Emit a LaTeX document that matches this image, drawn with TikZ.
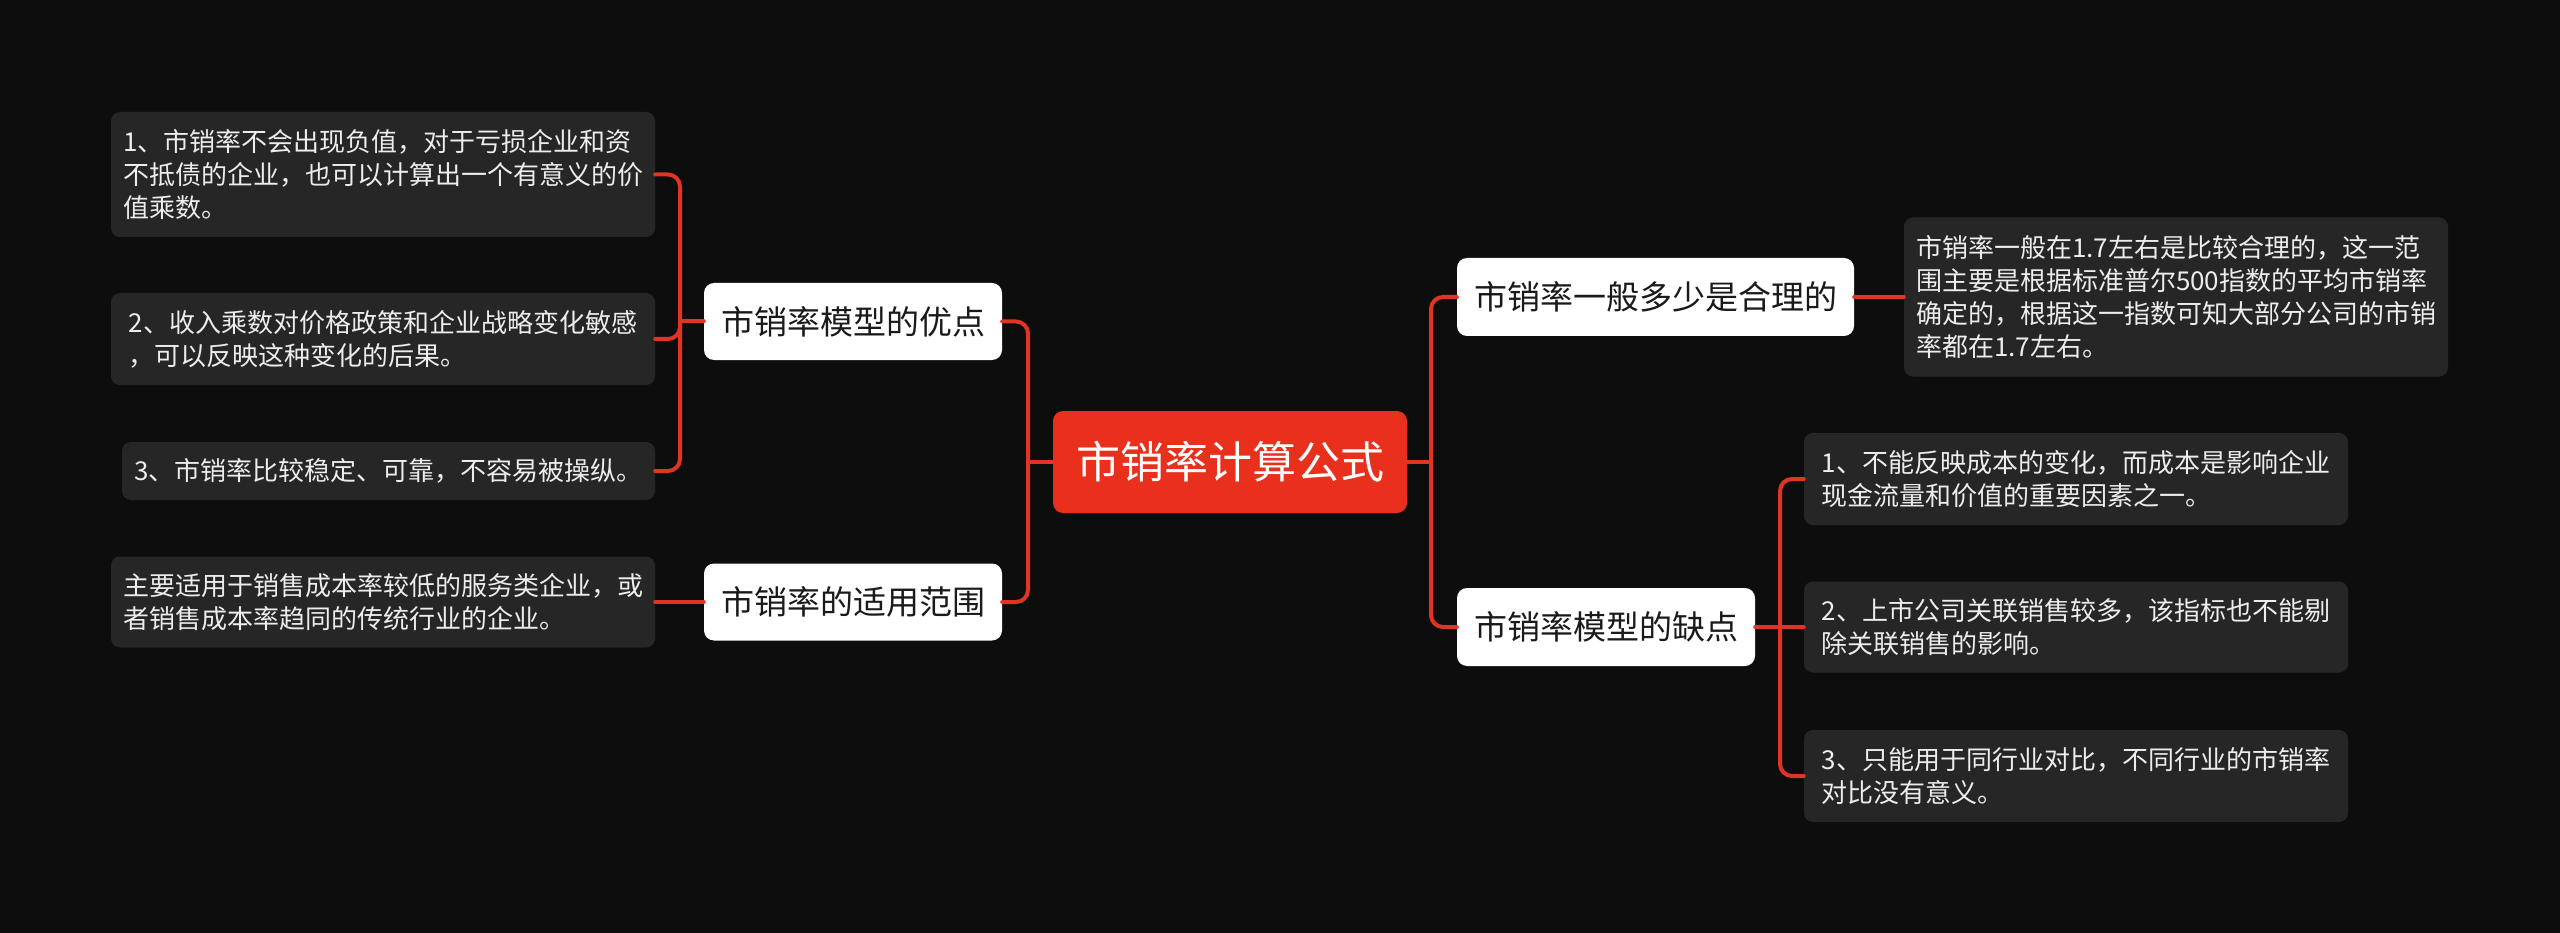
\documentclass[tikz,border=0pt]{standalone}
\usepackage{fontspec}
\setmainfont{Noto Sans CJK SC}
\definecolor{bgc}{HTML}{0D0D0D}
\definecolor{leaffill}{HTML}{262626}
\definecolor{linec}{HTML}{E23422}
\definecolor{rootfill}{HTML}{E8301C}
\definecolor{leaftext}{HTML}{EDEDED}
\definecolor{branchtext}{HTML}{1A1A1A}
\tikzset{
  leafbox/.style={fill=leaffill, rounded corners=9pt, align=left, text=leaftext,
    font=\fontsize{26}{33}\selectfont, inner sep=0pt, draw=none},
  branchbox/.style={fill=white, rounded corners=10pt, text=branchtext,
    font=\fontsize{33}{40}\selectfont, inner sep=0pt},
  rootbox/.style={fill=rootfill, rounded corners=10pt, text=white,
    font=\fontsize{44}{52}\selectfont, inner sep=0pt},
  conn/.style={draw=linec, line width=4pt, rounded corners=12pt, line cap=round}
}
\begin{document}
\begin{tikzpicture}[x=1pt,y=-1pt]
\fill[bgc] (0,0) rectangle (2560,933);
\useasboundingbox (0,0) rectangle (2560,933);

% root
\node[rootbox, minimum width=354pt, minimum height=102pt] (root) at (1230,462) {市销率计算公式};

% branches
\node[branchbox, minimum width=298pt, minimum height=77pt] (b1) at (853,321.5) {市销率模型的优点};
\node[branchbox, minimum width=298pt, minimum height=77pt] (b2) at (853,602) {市销率的适用范围};
\node[branchbox, minimum width=397pt, minimum height=78pt] (b3) at (1655.5,297) {市销率一般多少是合理的};
\node[branchbox, minimum width=298pt, minimum height=78pt] (b4) at (1606,627) {市销率模型的缺点};

% leaves left
\node[leafbox, minimum width=544pt, minimum height=125pt] (l1) at (383,174.5)
  {1、市销率不会出现负值，对于亏损企业和资\\不抵债的企业，也可以计算出一个有意义的价\\值乘数。};
\node[leafbox, minimum width=544pt, minimum height=92pt] (l2) at (383,339)
  {2、收入乘数对价格政策和企业战略变化敏感\\，可以反映这种变化的后果。};
\node[leafbox, minimum width=533pt, minimum height=58pt] (l3) at (388.5,471)
  {3、市销率比较稳定、可靠，不容易被操纵。};
\node[leafbox, minimum width=544pt, minimum height=91pt] (l4) at (383,602)
  {主要适用于销售成本率较低的服务类企业，或\\者销售成本率趋同的传统行业的企业。};

% leaves right
\node[leafbox, minimum width=544pt, minimum height=159pt] (l5) at (2176,297)
  {市销率一般在1.7左右是比较合理的，这一范\\围主要是根据标准普尔500指数的平均市销率\\确定的，根据这一指数可知大部分公司的市销\\率都在1.7左右。};
\node[leafbox, minimum width=544pt, minimum height=92pt] (l6) at (2076,479)
  {1、不能反映成本的变化，而成本是影响企业\\现金流量和价值的重要因素之一。};
\node[leafbox, minimum width=544pt, minimum height=91pt] (l7) at (2076,627)
  {2、上市公司关联销售较多，该指标也不能剔\\除关联销售的影响。};
\node[leafbox, minimum width=544pt, minimum height=92pt] (l8) at (2076,776)
  {3、只能用于同行业对比，不同行业的市销率\\对比没有意义。};

% junctions
\coordinate (jl) at (1028,462);
\coordinate (jr) at (1431,462);
\coordinate (jb1) at (680,321.5);
\coordinate (jb4) at (1780,627);

% connectors
\draw[conn] (root.west) -- (jl);
\draw[conn] (b1.east) -| (jl);
\draw[conn] (b2.east) -| (jl);
\draw[conn] (root.east) -- (jr);
\draw[conn] (b3.west) -| (jr);
\draw[conn] (b4.west) -| (jr);

\draw[conn] (b1.west) -- (jb1);
\draw[conn] (l1.east) -| (jb1);
\draw[conn] (l2.east) -| (jb1);
\draw[conn] (l3.east) -| (jb1);
\draw[conn] (b2.west) -- (l4.east);

\draw[conn] (b3.east) -- (l5.west);

\draw[conn] (b4.east) -- (jb4);
\draw[conn] (l6.west) -| (jb4);
\draw[conn] (l7.west) -- (jb4);
\draw[conn] (l8.west) -| (jb4);
\end{tikzpicture}
\end{document}
